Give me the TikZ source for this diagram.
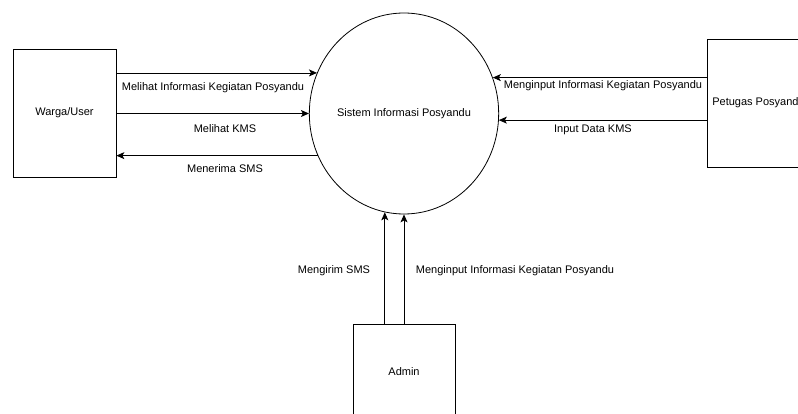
\documentclass[tikz,border=0pt]{standalone}
\usepackage{fontspec}
\setmainfont{Liberation Sans}
\usetikzlibrary{arrows.meta,shapes.geometric}
\begin{document}
\begin{tikzpicture}[x=1pt,y=-1pt,
  every node/.style={font=\fontsize{11}{13}\selectfont, inner sep=0pt},
  entity/.style={draw, line width=0.8pt, minimum width=103pt, anchor=center},
  flow/.style={draw, line width=0.8pt, -{Stealth[length=8pt,width=7pt,inset=2pt]}},
  lbl/.style={anchor=center}]
\useasboundingbox (0,0) rectangle (798,414);
\clip (0,0) rectangle (798,414);
\node[entity, minimum height=128pt] (warga) at (64.5,113) {Warga/User};
\node[entity, minimum height=128pt] (petugas) at (758.5,103) {Petugas Posyandu};
\node[entity, minimum height=96pt, minimum width=102pt] (admin) at (404,372) {Admin};
\node[draw, line width=0.8pt, ellipse, minimum width=186pt, minimum height=201pt] (sys) at (404,113.5) {Sistem Informasi Posyandu};
% left flows
\draw[flow] (warga.east |- sys.155.2) -- (sys.155.2);
\draw[flow] (warga.east |- sys.180) -- (sys.180);
\draw[flow] (sys.206.8) -- (warga.east |- sys.206.8);
% right flows
\draw[flow] (petugas.west |- sys.22.2) -- (sys.22.2);
\draw[flow] (petugas.west |- sys.356) -- (sys.356);
% bottom flows
\draw[flow] (admin.north -| sys.259.6) -- (sys.259.6);
\draw[flow] (admin.north -| sys.270) -- (sys.270);
% labels
\node[lbl] (l1) at (213,88) {Melihat Informasi Kegiatan Posyandu};
\node[lbl] (l2) at (225,129) {Melihat KMS};
\node[lbl] (l3) at (225,169) {Menerima SMS};
\node[lbl] (r1) at (603,86) {Menginput Informasi Kegiatan Posyandu};
\node[lbl] (r2) at (593,130) {Input Data KMS};
\node[lbl] (b1) at (334,271) {Mengirim SMS};
\node[lbl] (b2) at (515,271) {Menginput Informasi Kegiatan Posyandu};
\end{tikzpicture}
\end{document}
